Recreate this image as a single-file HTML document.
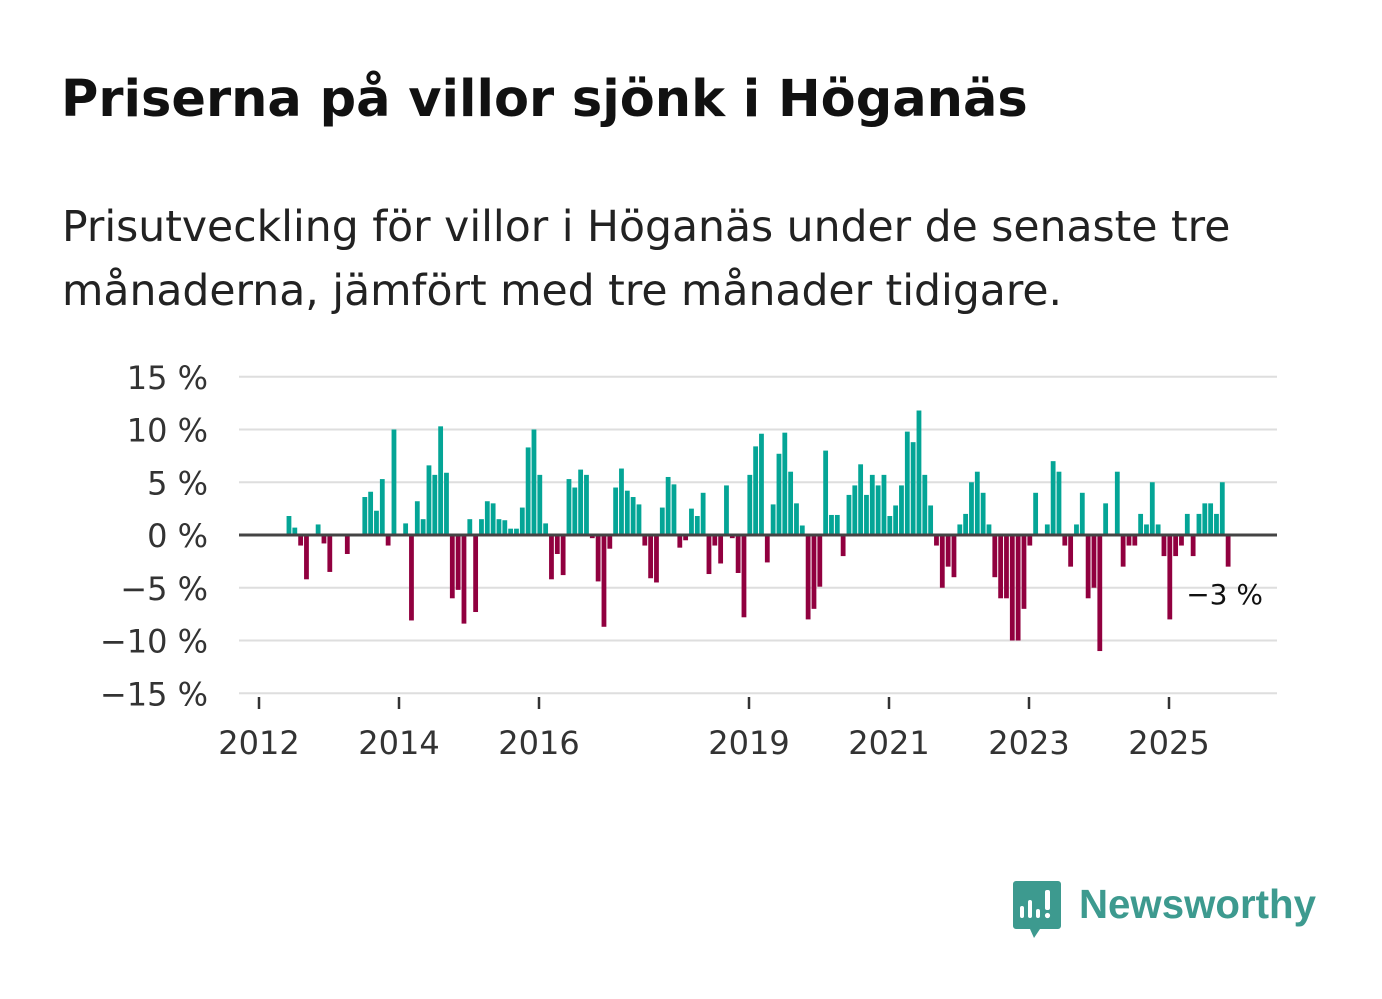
<!DOCTYPE html>
<html><head><meta charset="utf-8">
<style>
html,body{margin:0;padding:0;background:#fff;}
body{width:1382px;height:999px;position:relative;overflow:hidden;font-family:"DejaVu Sans","Liberation Sans",sans-serif;}
#title{position:absolute;left:61px;top:70px;font-size:51px;font-weight:bold;color:#111;white-space:nowrap;}
#subtitle{position:absolute;left:62px;top:196px;font-size:42.5px;line-height:64px;color:#222;width:1320px;white-space:nowrap;}
svg{position:absolute;left:0;top:0;}
</style></head>
<body>
<div id="title">Priserna på villor sjönk i Höganäs</div>
<div id="subtitle">Prisutveckling för villor i Höganäs under de senaste tre<br>månaderna, jämfört med tre månader tidigare.</div>
<svg id="chart" width="1382" height="999"></svg>
<script>
const startMonth = 5; // months since Jan 2012 (June 2012)
const values = [1.8,0.7,-1,-4.2,0,1,-0.8,-3.5,0,0,-1.8,0,0,3.6,4.1,2.3,5.3,-1,10,0,1.1,-8.1,3.2,1.5,6.6,5.7,10.3,5.9,-6,-5.2,-8.4,1.5,-7.3,1.5,3.2,3,1.5,1.4,0.6,0.6,2.6,8.3,10,5.7,1.1,-4.2,-1.8,-3.8,5.3,4.5,6.2,5.7,-0.3,-4.4,-8.7,-1.3,4.5,6.3,4.2,3.6,2.9,-1,-4.1,-4.5,2.6,5.5,4.8,-1.2,-0.5,2.5,1.8,4,-3.7,-1,-2.7,4.7,-0.3,-3.6,-7.8,5.7,8.4,9.6,-2.6,2.9,7.7,9.7,6,3,0.9,-8,-7,-4.9,8,1.9,1.9,-2,3.8,4.7,6.7,3.8,5.7,4.7,5.7,1.8,2.8,4.7,9.8,8.8,11.8,5.7,2.8,-1,-5,-3,-4,1,2,5,6,4,1,-4,-6,-6,-10,-10,-7,-1,4,0,1,7,6,-1,-3,1,4,-6,-5,-11,3,0,6,-3,-1,-1,2,1,5,1,-2,-8,-2,-1,2,-2,2,3,3,2,5,-3];
const yTicks = [15,10,5,0,-5,-10,-15];
const yTickLabels = ["15 %","10 %","5 %","0 %","\u22125 %","\u221210 %","\u221215 %"];
const xTickYears = [2012,2014,2016,2019,2021,2023,2025];
const lastLabel = "\u22123 %";

const svg = document.getElementById('chart');
const NS = 'http://www.w3.org/2000/svg';
const X0 = 259, PX_PER_MONTH = 70/12, Y0 = 535, PX_PER_PCT = 10.55;
const FONT = 'DejaVu Sans, Liberation Sans, sans-serif';
const xScale = m => X0 + m*PX_PER_MONTH;
const yScale = v => Y0 - v*PX_PER_PCT;
function mk(tag, attrs){const e=document.createElementNS(NS,tag);for(const k in attrs)e.setAttribute(k,attrs[k]);svg.appendChild(e);return e;}

yTicks.forEach((t,i)=>{
  if(t!==0){
    const g = mk('line',{x1:239,x2:1277,y1:yScale(t),y2:yScale(t),stroke:'#dedede','stroke-width':2});
    
    
  }
  const tx = mk('text',{x:208,y:yScale(t)+12,'text-anchor':'end','font-size':32,fill:'#333','font-family':FONT});
  tx.textContent = yTickLabels[i];
  
  
});

values.forEach((v,i)=>{
  if(v===0) return;
  const cx = xScale(startMonth+i)+0.8;
  const y1 = yScale(Math.max(v,0)), y2 = yScale(Math.min(v,0));
  const r = mk('rect',{x:cx-2.4,y:y1,width:4.8,height:y2-y1,fill:v>0?'#04a596':'#91003f'});
  
  
});

const zl = mk('line',{x1:239,x2:1277,y1:Y0,y2:Y0,stroke:'#444','stroke-width':3});



xTickYears.forEach(yr=>{
  const x = xScale((yr-2012)*12);
  const tk = mk('line',{x1:x,x2:x,y1:697,y2:709,stroke:'#333','stroke-width':2.5});
  
  
  const tx = mk('text',{x:x,y:754,'text-anchor':'middle','font-size':32,fill:'#333','font-family':FONT});
  tx.textContent = yr;
  
  
});

const ll = mk('text',{x:1263,y:604,'text-anchor':'end','font-size':28,fill:'#111','font-family':FONT});
ll.textContent = lastLabel;


</script>
<svg width="1382" height="999">
  <path d="M1016 881 h42 a3 3 0 0 1 3 3 v42 a3 3 0 0 1 -3 3 h-18 l-6 9 l-4 -9 h-14 a3 3 0 0 1 -3 -3 v-42 a3 3 0 0 1 3 -3z" fill="#3d9a8f"/>
  <rect x="1020" y="906" width="4" height="12" rx="2" fill="#fff"/>
  <rect x="1028" y="900" width="4" height="18" rx="2" fill="#fff"/>
  <rect x="1036" y="909" width="4" height="9" rx="2" fill="#fff"/>
  <rect x="1045" y="890" width="5" height="20" rx="2" fill="#fff"/>
  <circle cx="1047.5" cy="915.5" r="2.6" fill="#fff"/>
  <text x="1079" y="918" font-size="41" font-weight="bold" fill="#3d9a8f" textLength="237" lengthAdjust="spacingAndGlyphs" font-family="Liberation Sans, DejaVu Sans, sans-serif">Newsworthy</text>
</svg>
</body></html>
